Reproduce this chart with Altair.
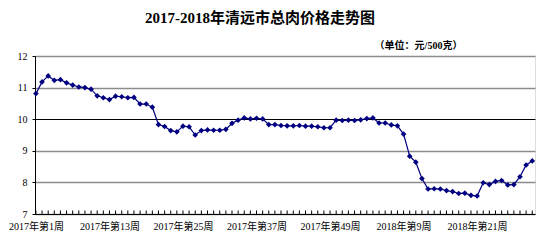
import altair as alt
import pandas as pd

title_text = "2017-2018年清远市总肉价格走势图"
unit_text = "（单位：元/500克）"
tick_labels = ["2017年第1周", "2017年第13周", "2017年第25周", "2017年第37周",
               "2017年第49周", "2018年第9周", "2018年第21周"]
prices = [10.81, 11.18, 11.37, 11.23, 11.25, 11.15, 11.08, 11.02, 11.00, 10.95,
          10.74, 10.68, 10.62, 10.73, 10.71, 10.68, 10.69, 10.48, 10.48, 10.38,
          9.83, 9.77, 9.64, 9.60, 9.78, 9.76, 9.50, 9.64, 9.66, 9.65,
          9.65, 9.68, 9.87, 9.97, 10.04, 10.01, 10.03, 10.01, 9.83, 9.83,
          9.80, 9.79, 9.79, 9.80, 9.78, 9.78, 9.76, 9.73, 9.73, 9.97,
          9.96, 9.97, 9.96, 9.98, 10.02, 10.04, 9.88, 9.88, 9.82, 9.79,
          9.53, 8.83, 8.64, 8.12, 7.79, 7.80, 7.79, 7.74, 7.71, 7.65,
          7.66, 7.59, 7.57, 7.99, 7.93, 8.03, 8.06, 7.92, 7.93, 8.18,
          8.55, 8.68]

df = pd.DataFrame({"i": list(range(len(prices))), "price": prices})

FONT = "Liberation Serif, Noto Sans CJK SC"
label_js = "[" + ",".join("'%s'" % t for t in tick_labels) + "]"

xscale = alt.Scale(domain=[-0.15, 81.45], nice=False, zero=False)
yscale = alt.Scale(domain=[7, 12], nice=False, zero=False)

x_axis = alt.Axis(
    values=[0, 12, 24, 36, 48, 60, 72],
    labelExpr=label_js + "[round(datum.value/12)]",
    ticks=False, grid=False, domainColor="#000000", domainWidth=1,
    labelFont=FONT, labelFontSize=10, labelColor="#000000", labelPadding=7,
    labelFlush=False, labelOverlap=False, title=None)

y_axis = alt.Axis(
    values=[7, 8, 9, 10, 11, 12],
    grid=True,
    gridColor={"condition": {"test": "datum.value === 10", "value": "#000000"}, "value": "#8c8c8c"},
    gridWidth={"condition": {"test": "datum.value === 10", "value": 1}, "value": 1.6},
    domainColor="#000000", domainWidth=1, tickColor="#000000", tickSize=3,
    labelFont=FONT, labelFontSize=10, labelColor="#000000", labelPadding=5,
    labelOverlap=False, labelFlush=False,
    title=unit_text, titleAngle=0, titleX=383, titleY=-8, titleAlign="center",
    titleBaseline="alphabetic", titleFont=FONT, titleFontSize=10,
    titleFontWeight="bold", titleColor="#000000")

x_enc = alt.X("i:Q", scale=xscale, axis=x_axis)
y_enc = alt.Y("price:Q", scale=yscale, axis=y_axis)

base = alt.Chart(df)

line = base.mark_line(color="#000080", strokeWidth=1.2).encode(x=x_enc, y=y_enc)

ticks = base.mark_rule(color="#000000", strokeWidth=1).encode(
    x=x_enc,
    y=alt.datum(7, scale=yscale, axis=y_axis),
    y2=alt.datum(7.11))

pts = base.mark_point(shape="diamond", filled=True, color="#000080", size=32, opacity=1).encode(
    x=x_enc, y=y_enc)

chart = alt.layer(line, ticks, pts).properties(
    width=500, height=158,
    title=alt.TitleParams(title_text, anchor="middle", dx=-25, offset=14,
                          font=FONT, fontSize=15, fontWeight="bold", color="#000000"),
    autosize=alt.AutoSizeParams(type="none"),
    padding={"left": 27, "top": 48, "right": 11, "bottom": 29},
).configure_view(stroke="#8c8c8c", strokeWidth=1.6).configure(background="#ffffff")

chart.save("out.html", embed_options={"renderer": "svg", "actions": False})
